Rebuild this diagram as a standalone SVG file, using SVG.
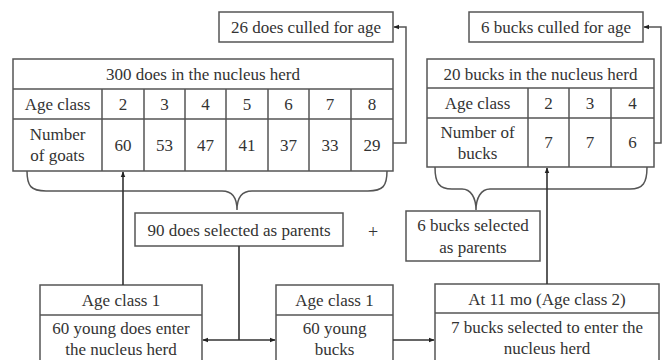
<svg xmlns="http://www.w3.org/2000/svg" width="663" height="360" viewBox="0 0 663 360" font-family="'Liberation Serif', 'Times New Roman', serif">
<defs>
<style>
text{font-family:"Liberation Serif","Times New Roman",serif;font-size:17px;fill:#333;text-anchor:middle}
.b{fill:#fff;stroke:#555;stroke-width:1.5}
.l{fill:none;stroke:#555;stroke-width:1.5}
.c{fill:none;stroke:#333;stroke-width:1.6}
</style>
<marker id="ah" viewBox="0 0 10 10" refX="9" refY="5" markerWidth="6" markerHeight="6" orient="auto" markerUnits="userSpaceOnUse">
<path d="M0,1 L10,5 L0,9 Z" fill="#222"/>
</marker>
</defs>
<rect width="663" height="360" fill="#fff"/>

<g id="does-culled">
<rect class="b" x="219" y="12" width="174" height="30"/>
<text x="306" y="33">26 does culled for age</text>
</g>

<g id="bucks-culled">
<rect class="b" x="469" y="12" width="174" height="30"/>
<text x="556" y="33">6 bucks culled for age</text>
</g>

<g id="does-table">
<rect class="b" x="13" y="59" width="380" height="112"/>
<path class="l" d="M13,89 H393 M13,119 H393 M102,89 V171 M144,89 V171 M185,89 V171 M226,89 V171 M268,89 V171 M309,89 V171 M351,89 V171"/>
<text x="203" y="80">300 does in the nucleus herd</text>
<text x="57.5" y="110">Age class</text>
<text x="123" y="110">2</text>
<text x="164.5" y="110">3</text>
<text x="205.5" y="110">4</text>
<text x="247" y="110">5</text>
<text x="288.5" y="110">6</text>
<text x="330" y="110">7</text>
<text x="372" y="110">8</text>
<text x="57.5" y="140">Number</text>
<text x="57.5" y="161">of goats</text>
<text x="123" y="151">60</text>
<text x="164.5" y="151">53</text>
<text x="205.5" y="151">47</text>
<text x="247" y="151">41</text>
<text x="288.5" y="151">37</text>
<text x="330" y="151">33</text>
<text x="372" y="151">29</text>
</g>

<g id="bucks-table">
<rect class="b" x="427" y="59" width="227" height="108"/>
<path class="l" d="M427,88 H654 M427,118 H654 M528,88 V167 M569,88 V167 M611,88 V167"/>
<text x="540.5" y="80">20 bucks in the nucleus herd</text>
<text x="477.5" y="109">Age class</text>
<text x="548.5" y="109">2</text>
<text x="590" y="109">3</text>
<text x="632.5" y="109">4</text>
<text x="477.5" y="138">Number of</text>
<text x="477.5" y="159">bucks</text>
<text x="548.5" y="148">7</text>
<text x="590" y="148">7</text>
<text x="632.5" y="148">6</text>
</g>

<g id="does-brace">
<path class="l" d="M27,171 C27,186 31,191 46,191 L222,191 C232,191 237,198 237,210 C237,198 242,191 252,191 L368,191 C383,191 387,186 387,171"/>
</g>

<g id="bucks-brace">
<path class="l" d="M435,167 C435,183 439,189 452,189 L462,189 C471,189 476,198 476,210 C476,198 481,189 490,189 L630,189 C643,189 647,183 647,167"/>
</g>

<g id="does-selected">
<rect class="b" x="135" y="213" width="208" height="33"/>
<text x="239" y="236">90 does selected as parents</text>
</g>

<g id="plus">
<text x="373" y="238" style="font-size:18px">+</text>
</g>

<g id="bucks-selected">
<rect class="b" x="406" y="211" width="134" height="50"/>
<text x="473" y="231">6 bucks selected</text>
<text x="473" y="253">as parents</text>
</g>

<g id="young-does">
<rect class="b" x="40" y="285" width="162" height="85"/>
<path class="l" d="M40,315 H202"/>
<text x="121" y="306">Age class 1</text>
<text x="121" y="334">60 young does enter</text>
<text x="121" y="355">the nucleus herd</text>
</g>

<g id="young-bucks">
<rect class="b" x="276" y="285" width="117" height="85"/>
<path class="l" d="M276,315 H393"/>
<text x="334.5" y="306">Age class 1</text>
<text x="334.5" y="334">60 young</text>
<text x="334.5" y="355">bucks</text>
</g>

<g id="bucks-11mo">
<rect class="b" x="435" y="284" width="224" height="86"/>
<path class="l" d="M435,313 H659"/>
<text x="547" y="305">At 11 mo (Age class 2)</text>
<text x="547" y="333">7 bucks selected to enter the</text>
<text x="547" y="354">nucleus herd</text>
</g>

<g id="connectors">
<path class="l" d="M393,143 H406 V27 H394" marker-end="url(#ah)"/>
<path class="l" d="M654,143 H661 V27 H644" marker-end="url(#ah)"/>
<path class="c" d="M123,285 V172" marker-end="url(#ah)"/>
<path class="c" d="M239,246 V340"/>
<path class="c" d="M239,340 H203" marker-end="url(#ah)"/>
<path class="c" d="M239,340 H275" marker-end="url(#ah)"/>
<path class="c" d="M393,340 H434" marker-end="url(#ah)"/>
<path class="c" d="M547,284 V168" marker-end="url(#ah)"/>
</g>
</svg>
